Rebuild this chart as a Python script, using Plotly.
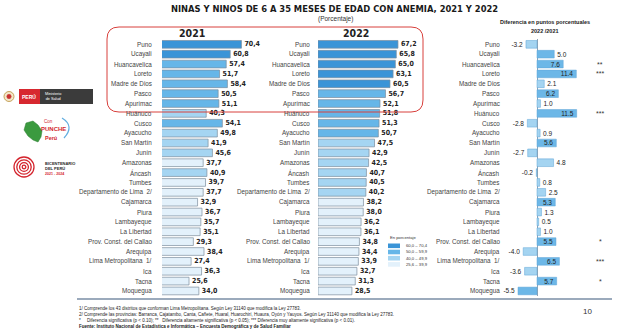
import plotly.graph_objects as go

# ---------------- data ----------------
regions = ["Puno", "Ucayali", "Huancavelica", "Loreto", "Madre de Dios", "Pasco", "Apurímac",
           "Huánuco", "Cusco", "Ayacucho", "San Martín", "Junín", "Amazonas", "Áncash", "Tumbes",
           "Departamento de Lima  2/", "Cajamarca", "Piura", "Lambayeque", "La Libertad",
           "Prov. Const. del Callao", "Arequipa", "Lima Metropolitana  1/", "Ica", "Tacna", "Moquegua"]
v2021 = [70.4, 60.8, 57.4, 51.7, 58.4, 50.5, 51.1, 40.3, 54.1, 49.8, 41.9, 45.6, 37.7, 40.9, 39.7,
         37.7, 32.9, 36.7, 35.7, 35.1, 29.3, 38.4, 27.4, 36.3, 25.6, 34.0]
v2022 = [67.2, 65.8, 65.0, 63.1, 60.5, 56.7, 52.1, 51.8, 51.3, 50.7, 47.5, 42.9, 42.5, 40.7, 40.5,
         40.2, 38.2, 38.0, 36.2, 36.1, 34.8, 34.4, 33.9, 32.7, 31.3, 28.5]
diff = [-3.2, 5.0, 7.6, 11.4, 2.1, 6.2, 1.0, 11.5, -2.8, 0.9, 5.6, -2.7, 4.8, -0.2, 0.8, 2.5, 5.3,
        1.3, 0.5, 1.0, 5.5, -4.0, 6.5, -3.6, 5.7, -5.5]
signif = ["", "", "**", "***", "", "", "", "***", "", "", "", "", "", "", "", "", "", "", "", "",
          "*", "", "***", "", "*", ""]
bin_low = [60.0, 50.0, 40.0, 25.6]
bin_labels = ["60,0 – 70,4", "50,0 – 59,9", "40,0 – 49,9", "25,6 – 39,9"]
bin_colors = ["#3a94d7", "#66b6e8", "#a5d5f2", "#e3f1fb"]

W, H = 620, 334
def px(x): return x / W
def py(y): return 1 - y / H

def bin_color(v):
    for lo, c in zip(bin_low, bin_colors):
        if v >= lo:
            return c
    return bin_colors[-1]

LBL = "Liberation Sans, Arial, sans-serif"
NARROW = "Liberation Sans Narrow, Arial Narrow, DejaVu Sans Condensed, Liberation Sans, sans-serif"

fig = go.Figure()

# panel 2021
fig.add_trace(go.Bar(
    x=v2021, y=regions, orientation="h", xaxis="x", yaxis="y",
    marker=dict(color=[bin_color(v) for v in v2021], line=dict(color="#7d8e9e", width=0.7)),
    width=0.78, texttemplate="<b>%{x:.1f}</b>", textposition="outside", constraintext="none",
    cliponaxis=False, textfont=dict(family=NARROW, size=7, color="#222"), hoverinfo="skip"))
# panel 2022
fig.add_trace(go.Bar(
    x=v2022, y=regions, orientation="h", xaxis="x2", yaxis="y2",
    marker=dict(color=[bin_color(v) for v in v2022], line=dict(color="#7d8e9e", width=0.7)),
    width=0.78, texttemplate="<b>%{x:.1f}</b>", textposition="outside", constraintext="none",
    cliponaxis=False, textfont=dict(family=NARROW, size=7, color="#222"), hoverinfo="skip"))
# panel difference
fig.add_trace(go.Bar(
    x=diff, y=regions, orientation="h", xaxis="x3", yaxis="y3",
    marker=dict(color=["#6cb7e7" if abs(d) >= 5 else "#a4d4f1" for d in diff],
                line=dict(color="#5fa5d6", width=0.5)),
    width=0.78, text=[f"{d:.1f}" for d in diff],
    textposition=["inside" if d >= 5.3 else "outside" for d in diff],
    constraintext="none", cliponaxis=False,
    insidetextfont=dict(family=LBL, size=6.5, color="#222"),
    outsidetextfont=dict(family=LBL, size=6.5, color="#222"), hoverinfo="skip"))

ydom = [py(295.9), py(39.4)]
yax = dict(type="category", categoryorder="array", categoryarray=regions, range=[25.5, -0.5],
           domain=ydom, visible=False, fixedrange=True)

fig.update_layout(
    width=W, height=H, margin=dict(l=0, r=0, t=0, b=0), autosize=False,
    paper_bgcolor="white", plot_bgcolor="white", showlegend=False, separators=",.",
    bargap=0.2,
    xaxis=dict(domain=[px(162), px(262)], range=[2.5, 2.5 + 100 / 1.17], visible=False, anchor="y"),
    yaxis=dict(yax, anchor="x"),
    xaxis2=dict(domain=[px(318), px(418)], range=[0, 100 / 1.19], visible=False, anchor="y2"),
    yaxis2=dict(yax, anchor="x2"),
    xaxis3=dict(domain=[px(510), px(590)], range=[-27 / 3.45, 53 / 3.45], showgrid=False,
                showticklabels=False, ticks="", showline=False, zeroline=True,
                zerolinecolor="#8fa3b5", zerolinewidth=1, anchor="y3"),
    yaxis3=dict(yax, anchor="x3"),
)

ann = []
# category labels
for r in regions:
    for xr, yr in [(154, "y"), (312, "y2"), (502, "y3")]:
        ann.append(dict(x=px(xr), y=r, xref="paper", yref=yr, text=r, showarrow=False,
                        xanchor="right", yanchor="middle",
                        font=dict(family=LBL, size=6.3, color="#444")))
# significance stars
for r, s in zip(regions, signif):
    if s:
        ann.append(dict(x=px(600), y=r, xref="paper", yref="y3", text=s, showarrow=False,
                        xanchor="center", yanchor="middle",
                        font=dict(family=LBL, size=7, color="#333")))

def txt(x, y, t, size, color="#222", family=LBL, xanchor="center", bold=False):
    ann.append(dict(x=px(x), y=py(y), xref="paper", yref="paper",
                    text=f"<b>{t}</b>" if bold else t, showarrow=False,
                    xanchor=xanchor, yanchor="middle", font=dict(family=family, size=size, color=color)))

txt(334, 8.5, "NINAS Y NINOS DE 6 A 35 MESES DE EDAD CON ANEMIA, 2021 Y 2022", 9.3, "#1a1a1a", NARROW, bold=True)
txt(335, 19, "(Porcentaje)", 6.5, "#333")
txt(192, 33, "2021", 10.5, "#222", NARROW, bold=True)
txt(356, 33, "2022", 10.5, "#222", NARROW, bold=True)
txt(545, 22, "Diferencia en puntos porcentuales", 5.5, "#222", LBL, bold=True)
txt(545, 31, "2022 /2021", 5.5, "#222", LBL, bold=True)

# legend
txt(388, 238, "En porcentaje", 4.2, "#333", LBL, xanchor="left")
shapes = []
for i, (c, lab) in enumerate(zip(bin_colors, bin_labels)):
    y0 = 243.5 + i * 6.2
    shapes.append(dict(type="rect", xref="paper", yref="paper", x0=px(388), x1=px(400),
                       y0=py(y0), y1=py(y0 + 4.6), fillcolor=c, line=dict(width=0)))
    txt(404, y0 + 2.3, lab, 4.2, "#333", LBL, xanchor="left")

# footnotes
notes = [
    ("1/ Comprende los 43 distritos que conforman Lima Metropolitana. Según Ley 31140 que modifica la Ley 27783.", False),
    ("2/ Comprende las provincias: Barranca, Cajatambo, Canta, Cañete, Huaral, Huarochirí, Huaura, Oyón y Yauyos. Según Ley 31140 que modifica la Ley 27783.", False),
    ("*     Diferencia significativa (p < 0.10); **   Diferencia altamente significativa (p < 0.05); *** Diferencia muy altamente significativa (p < 0.01).", False),
    ("Fuente: Instituto Nacional de Estadística e Informática – Encuesta Demográfica y de Salud Familiar", True),
]
for i, (t, b) in enumerate(notes):
    txt(77, 308 + i * 6, t, 4.5, "#222", LBL, xanchor="left", bold=b)
txt(587, 311, "10", 8, "#333")

shapes.append(dict(type="line", xref="paper", yref="paper", x0=px(77), x1=px(612),
                   y0=py(299), y1=py(299), line=dict(color="#7a8ea6", width=1.5)))

# red rounded rectangle
x0, x1, y0, y1, rr = 107, 423, 27, 112, 12
path = (f"M {px(x0+rr)},{py(y0)} L {px(x1-rr)},{py(y0)} Q {px(x1)},{py(y0)} {px(x1)},{py(y0+rr)} "
        f"L {px(x1)},{py(y1-rr)} Q {px(x1)},{py(y1)} {px(x1-rr)},{py(y1)} "
        f"L {px(x0+rr)},{py(y1)} Q {px(x0)},{py(y1)} {px(x0)},{py(y1-rr)} "
        f"L {px(x0)},{py(y0+rr)} Q {px(x0)},{py(y0)} {px(x0+rr)},{py(y0)} Z")
shapes.append(dict(type="path", xref="paper", yref="paper", path=path,
                   line=dict(color="#d8403c", width=1)))

# logos
def rect(xa, ya, xb, yb, fill, lc=None, lw=0):
    shapes.append(dict(type="rect", xref="paper", yref="paper", x0=px(xa), x1=px(xb),
                       y0=py(yb), y1=py(ya), fillcolor=fill, line=dict(color=lc or fill, width=lw)))
def circ(cx, cy, r, fill="rgba(0,0,0,0)", lc="#d4252e", lw=1.2):
    shapes.append(dict(type="circle", xref="paper", yref="paper", x0=px(cx - r), x1=px(cx + r),
                       y0=py(cy + r), y1=py(cy - r), fillcolor=fill, line=dict(color=lc, width=lw)))

# MINSA
circ(9, 96.5, 5, fill="#f3e7c9", lc="#b98f3a", lw=0.8)
circ(9, 96.5, 2.2, fill="#c8312f", lc="#c8312f", lw=0.5)
rect(19, 89, 40, 104, "#d7282f")
rect(40, 89, 93, 104, "#3b3b3b")
txt(29.5, 96.5, "PERÚ", 5, "white", LBL, bold=True)
txt(43, 96.5, "Ministerio<br>de Salud", 3.8, "white", LBL, xanchor="left")

# Con Punche Perú
pts = [(26, 123), (33, 121), (38, 125), (42, 131), (41, 137), (38, 142), (33, 140), (28, 136), (24, 130)]
shapes.append(dict(type="path", xref="paper", yref="paper",
                   path="M " + " L ".join(f"{px(a)},{py(b)}" for a, b in pts) + " Z",
                   fillcolor="#3b9a3f", line=dict(color="#2d7d33", width=0.5)))
shapes.append(dict(type="path", xref="paper", yref="paper",
                   path=f"M {px(62)},{py(118)} Q {px(75)},{py(126)} {px(64)},{py(138)}",
                   line=dict(color="#62aee0", width=1.2)))
txt(49, 121, "Con", 4.5, "#d3262e", LBL)
txt(53, 129, "PUNCHE", 6, "#d3262e", LBL, bold=True)
txt(51, 138, "Perú", 5.5, "#d3262e", LBL, bold=True)

# Bicentenario
for r_ in [10, 7.2, 4.4, 1.8]:
    circ(24, 167, r_, lw=1.3)
txt(43, 163.5, "BICENTENARIO", 4, "#2a2a2a", LBL, xanchor="left", bold=True)
txt(43, 168.5, "DEL PERÚ", 4, "#2a2a2a", LBL, xanchor="left", bold=True)
txt(43, 173.5, "2021 - 2024", 3.6, "#d4252e", LBL, xanchor="left", bold=True)

fig.update_layout(annotations=ann, shapes=shapes)
fig.write_html("out.html")
